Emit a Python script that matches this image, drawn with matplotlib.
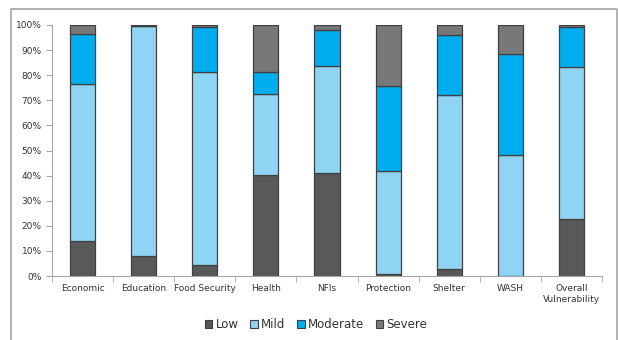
import numpy as np
import matplotlib.pyplot as plt
from matplotlib.lines import Line2D
from matplotlib.ticker import PercentFormatter

# --- datos ---
categorias = ['Economic', 'Education', 'Food Security', 'Health', 'NFIs',
              'Protection', 'Shelter', 'WASH', 'Overall\nVulnerability']
low = [13.9, 8.1, 4.3, 40.4, 41.2, 0.9, 2.8, 0.0, 22.8]
mild = [62.7, 91.6, 77.0, 32.0, 42.6, 40.9, 69.2, 48.1, 60.5]
moderate = [19.9, 0.0, 17.9, 8.9, 14.1, 33.9, 24.1, 40.2, 15.8]
severe = [3.5, 0.3, 0.8, 18.7, 2.1, 24.3, 3.9, 11.7, 0.9]

series = ['Low', 'Mild', 'Moderate', 'Severe']
colores = ['#58595B', '#8FD4F3', '#00ADEE', '#77787A']

plt.rcParams['font.family'] = ['DejaVu Sans']

fig = plt.figure(figsize=(6.18, 3.40), dpi=100)
ax = fig.add_axes([52/618, 1 - 276/340, 550/618, 251/340])

# marco
gris = '#A6A6A6'
fig.add_artist(Line2D([11/618, 11/618, 617/618, 617/618],
                      [0, 1 - 9/340, 1 - 9/340, 0],
                      transform=fig.transFigure, color=gris, lw=1.2))

x = np.arange(len(categorias))
base = np.zeros(len(categorias))
for nombre, vals, c in zip(series, [low, mild, moderate, severe], colores):
    vals = np.array(vals)
    ax.bar(x, vals, 0.41, bottom=base, color=c, edgecolor='#404040',
           linewidth=0.9, label=nombre)
    base += vals

ax.set_xlim(-0.5, len(categorias) - 0.5)
ax.set_ylim(0, 100)
ax.set_yticks(np.arange(0, 101, 10))
ax.yaxis.set_major_formatter(PercentFormatter(decimals=0))
ax.set_xticks(x)
ax.set_xticklabels(categorias, fontsize=6.5, color='#333333', linespacing=1.3)
ax.set_xticks(np.arange(-0.5, len(categorias)), minor=True)
ax.tick_params(axis='x', which='major', length=0, pad=6)
ax.tick_params(axis='x', which='minor', length=4, color=gris, direction='out')
ax.tick_params(axis='y', length=4, color=gris, labelsize=6.5, labelcolor='#333333')

for s in ['top', 'right']:
    ax.spines[s].set_visible(False)
for s in ['left', 'bottom']:
    ax.spines[s].set_color(gris)

handles = [plt.Rectangle((0, 0), 1, 1, facecolor=c, edgecolor='#404040', lw=0.8)
           for c in colores]
fig.legend(handles, series, loc='center', bbox_to_anchor=(316/618, 1 - 325/340),
           ncol=4, frameon=False, fontsize=8.5, handlelength=0.65, handleheight=0.65,
           handletextpad=0.25, columnspacing=1.0, labelcolor='#333333')

fig.savefig('out.png', dpi=100)
